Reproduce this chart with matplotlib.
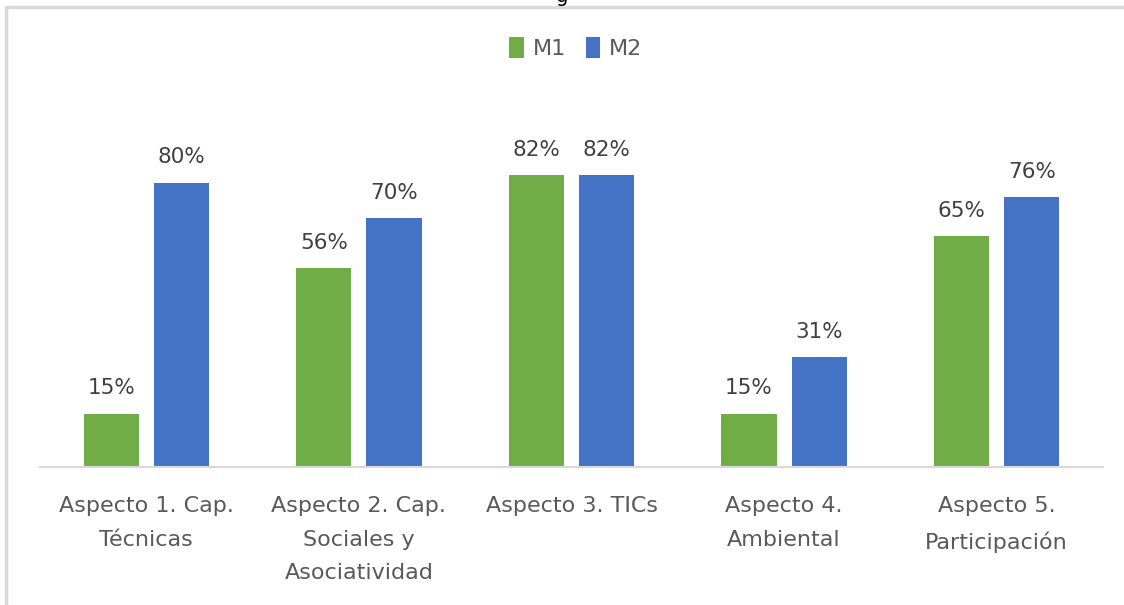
import numpy as np
from matplotlib import pyplot as plt
from matplotlib.patches import Rectangle

# data
categories = ['Aspecto 1. Cap.\nTécnicas',
              'Aspecto 2. Cap.\nSociales y\nAsociatividad',
              'Aspecto 3. TICs',
              'Aspecto 4.\nAmbiental',
              'Aspecto 5.\nParticipación']
m1 = [15, 56, 82, 15, 65]
m2 = [80, 70, 82, 31, 76]
series_names = ['M1', 'M2']

green = '#70AD47'
blue = '#4472C4'
grey_text = '#595959'

plt.rcParams['font.family'] = ['DejaVu Sans']

fig = plt.figure(figsize=(11.24, 6.05), dpi=100)
W, H = 1124, 605

# outer chart border (light grey, cropped on right/bottom)
fig.patches.append(Rectangle((6/W, -0.05), 1.1, (605-6)/H + 0.05 - 1/H,
                             transform=fig.transFigure, fill=False,
                             edgecolor='#d9d9d9', linewidth=2.5))
# cut-off descender of a title above the crop
fig.text(562/W, 1.0 + 3/H, 'g', ha='center', va='center', fontsize=14,
         color='black')

ax = fig.add_axes([40/W, (605-467)/H, 1063/W, 355.5/H])
x = np.arange(len(categories))
w = 0.26
off = 0.165
b1 = ax.bar(x - off, m1, w, color=green, label=series_names[0])
b2 = ax.bar(x + off, m2, w, color=blue, label=series_names[1])

for bars, vals in ((b1, m1), (b2, m2)):
    for rect, v in zip(bars, vals):
        ax.annotate(f'{v}%', (rect.get_x() + rect.get_width()/2, v),
                    xytext=(0, 11), textcoords='offset points',
                    ha='center', va='bottom', fontsize=15.5, color='#404040')

ax.set_xlim(-0.5, 4.5)
ax.set_ylim(0, 100)
ax.set_yticks([])
ax.set_xticks(x)
ax.set_xticklabels(categories, fontsize=16, color=grey_text,
                   linespacing=1.85, va='top')
ax.tick_params(axis='x', length=0, pad=21)
for s in ('top', 'right', 'left'):
    ax.spines[s].set_visible(False)
ax.spines['bottom'].set_color('#d9d9d9')
ax.spines['bottom'].set_linewidth(1.5)

leg = fig.legend(handles=[b1, b2], labels=series_names, loc='center',
                 bbox_to_anchor=(576/W, 1 - 48/H), ncol=2, frameon=False,
                 fontsize=16, handlelength=0.65, handleheight=1.1,
                 handletextpad=0.4, columnspacing=0.9)
for t in leg.get_texts():
    t.set_color(grey_text)

fig.savefig('out.png', dpi=100)
